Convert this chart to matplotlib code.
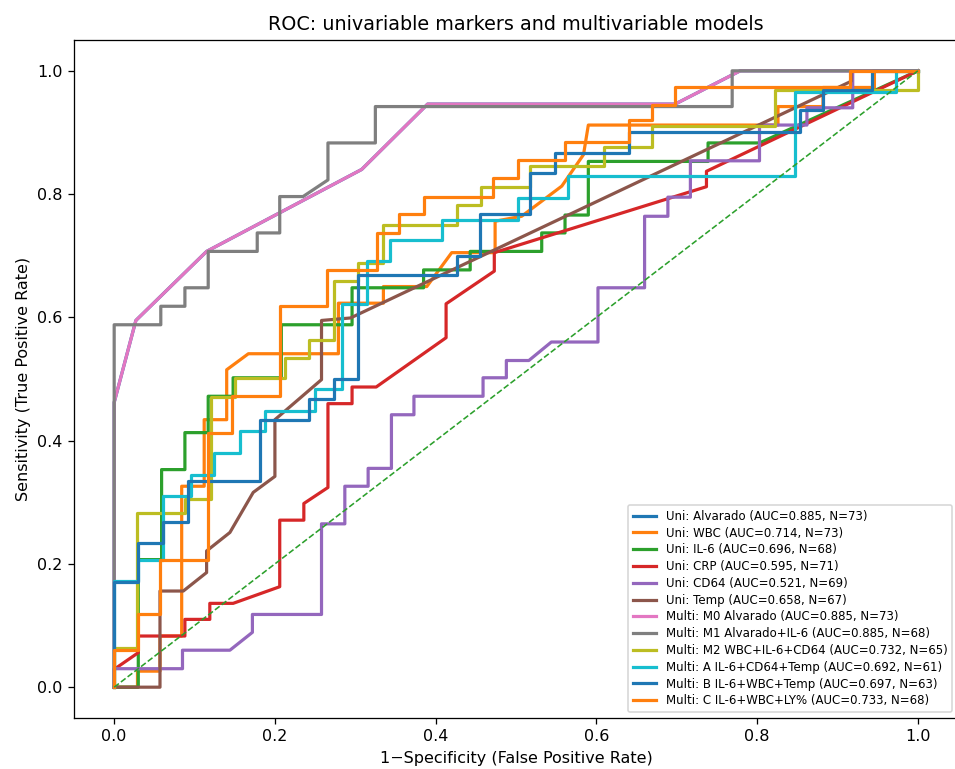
import matplotlib
matplotlib.use("Agg")
import matplotlib.pyplot as plt

# ROC points (fpr, tpr), step corners included

# Alvarado alone: same curve for the univariable marker and model M0
fpr_alvarado = [0, 0, 0.027, 0.115, 0.308, 0.39, 0.698, 0.779, 1.0]
tpr_alvarado = [0, 0.462, 0.595, 0.707, 0.84, 0.946, 0.946, 1.0, 1.0]

fpr_wbc = [0, 0.029, 0.029, 0.057, 0.057, 0.084, 0.084, 0.112, 0.112, 0.140, 0.140, 0.167,
           0.279, 0.279, 0.335, 0.335, 0.389, 0.42, 0.443, 0.474, 0.474, 0.507, 0.557, 0.584,
           0.59, 0.826, 0.826, 0.882, 0.882, 0.946, 0.946, 1.0]
tpr_wbc = [0, 0, 0.026, 0.026, 0.083, 0.083, 0.326, 0.326, 0.434, 0.434, 0.515, 0.541,
           0.541, 0.623, 0.623, 0.650, 0.650, 0.705, 0.705, 0.705, 0.756, 0.764, 0.813, 0.864,
           0.912, 0.912, 0.942, 0.942, 0.973, 0.973, 1.0, 1.0]

fpr_il6 = [0, 0.030, 0.030, 0.059, 0.059, 0.088, 0.088, 0.117, 0.117, 0.148, 0.148, 0.208,
           0.208, 0.296, 0.296, 0.385, 0.385, 0.443, 0.443, 0.532, 0.532, 0.561, 0.561, 0.590,
           0.590, 0.739, 0.739, 0.803, 1.0]
tpr_il6 = [0, 0, 0.207, 0.207, 0.353, 0.353, 0.413, 0.413, 0.472, 0.472, 0.502, 0.502,
           0.588, 0.588, 0.648, 0.648, 0.677, 0.677, 0.707, 0.707, 0.737, 0.737, 0.766, 0.766,
           0.853, 0.853, 0.883, 0.883, 1.0]

fpr_crp = [0, 0, 0.030, 0.030, 0.088, 0.088, 0.119, 0.119, 0.148, 0.206, 0.206, 0.236, 0.236,
           0.266, 0.266, 0.296, 0.296, 0.326, 0.413, 0.413, 0.473, 0.473, 0.737, 0.737, 1.0]
tpr_crp = [0, 0.029, 0.056, 0.083, 0.083, 0.110, 0.110, 0.136, 0.136, 0.163, 0.271, 0.271, 0.298,
           0.324, 0.46, 0.46, 0.487, 0.487, 0.567, 0.622, 0.675, 0.705, 0.812, 0.837, 1.0]

fpr_cd64 = [0, 0, 0.085, 0.085, 0.144, 0.172, 0.172, 0.258, 0.258, 0.287, 0.287, 0.316, 0.316,
            0.345, 0.345, 0.373, 0.373, 0.459, 0.459, 0.488, 0.488, 0.516, 0.544, 0.602, 0.602,
            0.660, 0.660, 0.689, 0.689, 0.717, 0.717, 0.803, 0.803, 0.862, 0.862, 0.919, 0.919, 1.0]
tpr_cd64 = [0, 0.03, 0.03, 0.06, 0.06, 0.089, 0.118, 0.118, 0.265, 0.265, 0.326, 0.326, 0.355,
            0.355, 0.442, 0.442, 0.472, 0.472, 0.502, 0.502, 0.530, 0.530, 0.56, 0.56, 0.648,
            0.648, 0.764, 0.764, 0.795, 0.795, 0.854, 0.854, 0.912, 0.912, 0.94, 0.94, 1.0, 1.0]

fpr_temp = [0, 0.057, 0.057, 0.086, 0.115, 0.115, 0.144, 0.173, 0.2, 0.2, 0.258, 0.258, 0.294,
            0.917, 0.917, 1.0]
tpr_temp = [0, 0, 0.156, 0.156, 0.186, 0.221, 0.251, 0.316, 0.342, 0.434, 0.499, 0.595, 0.599,
            0.983, 1.0, 1.0]

fpr_m1 = [0, 0, 0.058, 0.058, 0.088, 0.088, 0.117, 0.117, 0.178, 0.178, 0.206, 0.206, 0.235,
          0.266, 0.266, 0.325, 0.325, 0.769, 0.769, 1.0]
tpr_m1 = [0, 0.588, 0.588, 0.618, 0.618, 0.648, 0.648, 0.707, 0.707, 0.737, 0.737, 0.796, 0.796,
          0.823, 0.883, 0.883, 0.942, 0.942, 1.0, 1.0]

fpr_m2 = [0, 0, 0.029, 0.029, 0.088, 0.088, 0.121, 0.121, 0.150, 0.150, 0.213, 0.213, 0.242,
          0.242, 0.273, 0.273, 0.304, 0.304, 0.335, 0.335, 0.426, 0.426, 0.457, 0.457, 0.517,
          0.517, 0.609, 0.609, 0.669, 0.669, 0.822, 0.822, 1.0, 1.0]
tpr_m2 = [0, 0.064, 0.064, 0.283, 0.283, 0.305, 0.305, 0.47, 0.47, 0.502, 0.502, 0.534, 0.534,
          0.564, 0.564, 0.659, 0.659, 0.688, 0.688, 0.750, 0.750, 0.783, 0.783, 0.812, 0.812,
          0.845, 0.845, 0.876, 0.876, 0.91, 0.91, 0.969, 0.969, 1.0]

fpr_a = [0, 0, 0.030, 0.030, 0.061, 0.061, 0.095, 0.095, 0.124, 0.124, 0.157, 0.157, 0.188,
         0.188, 0.25, 0.25, 0.283, 0.283, 0.314, 0.314, 0.343, 0.343, 0.408, 0.408, 0.503,
         0.503, 0.565, 0.565, 0.847, 0.847, 0.973, 0.973, 1.0]
tpr_a = [0, 0.172, 0.172, 0.207, 0.207, 0.31, 0.31, 0.345, 0.345, 0.38, 0.38, 0.415, 0.415,
         0.448, 0.448, 0.483, 0.483, 0.621, 0.621, 0.691, 0.691, 0.726, 0.726, 0.758, 0.758,
         0.794, 0.794, 0.829, 0.829, 0.966, 0.966, 1.0, 1.0]

fpr_b = [0, 0, 0.030, 0.030, 0.061, 0.061, 0.092, 0.092, 0.182, 0.182, 0.242, 0.242, 0.273,
         0.273, 0.304, 0.304, 0.426, 0.426, 0.455, 0.455, 0.517, 0.517, 0.549, 0.549, 0.64,
         0.64, 0.853, 0.853, 0.882, 0.882, 0.943, 0.943, 1.0]
tpr_b = [0, 0.17, 0.17, 0.234, 0.234, 0.268, 0.268, 0.334, 0.334, 0.434, 0.434, 0.467, 0.467,
         0.500, 0.500, 0.668, 0.668, 0.699, 0.699, 0.767, 0.767, 0.834, 0.834, 0.866, 0.866,
         0.901, 0.901, 0.937, 0.937, 0.969, 0.969, 1.0, 1.0]

fpr_c = [0, 0, 0.030, 0.030, 0.057, 0.057, 0.117, 0.117, 0.146, 0.146, 0.206, 0.206, 0.265,
         0.265, 0.327, 0.327, 0.354, 0.354, 0.385, 0.385, 0.472, 0.472, 0.503, 0.503, 0.561,
         0.561, 0.640, 0.640, 0.669, 0.669, 0.698, 0.698, 0.915, 0.915, 1.0]
tpr_c = [0, 0.06, 0.06, 0.118, 0.118, 0.207, 0.207, 0.413, 0.413, 0.472, 0.472, 0.618, 0.618,
         0.677, 0.677, 0.737, 0.737, 0.767, 0.767, 0.796, 0.796, 0.826, 0.826, 0.856, 0.856,
         0.884, 0.884, 0.92, 0.92, 0.945, 0.945, 0.973, 0.973, 1.0, 1.0]

labels = [
    "Uni: Alvarado (AUC=0.885, N=73)",
    "Uni: WBC (AUC=0.714, N=73)",
    "Uni: IL-6 (AUC=0.696, N=68)",
    "Uni: CRP (AUC=0.595, N=71)",
    "Uni: CD64 (AUC=0.521, N=69)",
    "Uni: Temp (AUC=0.658, N=67)",
    "Multi: M0 Alvarado (AUC=0.885, N=73)",
    "Multi: M1 Alvarado+IL-6 (AUC=0.885, N=68)",
    "Multi: M2 WBC+IL-6+CD64 (AUC=0.732, N=65)",
    "Multi: A IL-6+CD64+Temp (AUC=0.692, N=61)",
    "Multi: B IL-6+WBC+Temp (AUC=0.697, N=63)",
    "Multi: C IL-6+WBC+LY% (AUC=0.733, N=68)",
]
curves = [
    (fpr_alvarado, tpr_alvarado), (fpr_wbc, tpr_wbc), (fpr_il6, tpr_il6),
    (fpr_crp, tpr_crp), (fpr_cd64, tpr_cd64), (fpr_temp, tpr_temp),
    (fpr_alvarado, tpr_alvarado), (fpr_m1, tpr_m1), (fpr_m2, tpr_m2),
    (fpr_a, tpr_a), (fpr_b, tpr_b), (fpr_c, tpr_c),
]

fig = plt.figure(figsize=(955/115, 769/115), dpi=115)
ax = fig.add_axes([74/955, 51/769, 884/955, 678/769])

for (fx, ty), lab in zip(curves, labels):
    ax.plot(fx, ty, lw=2, label=lab)
ax.plot([0, 1], [0, 1], '--', lw=1)  # chance line, next colour in cycle

ax.set_xlabel('1\u2212Specificity (False Positive Rate)')
ax.set_ylabel('Sensitivity (True Positive Rate)')
ax.set_title('ROC: univariable markers and multivariable models')
ax.legend(loc='lower right', fontsize=7.4, labelspacing=0.32)

fig.savefig('out.png', dpi=115)
